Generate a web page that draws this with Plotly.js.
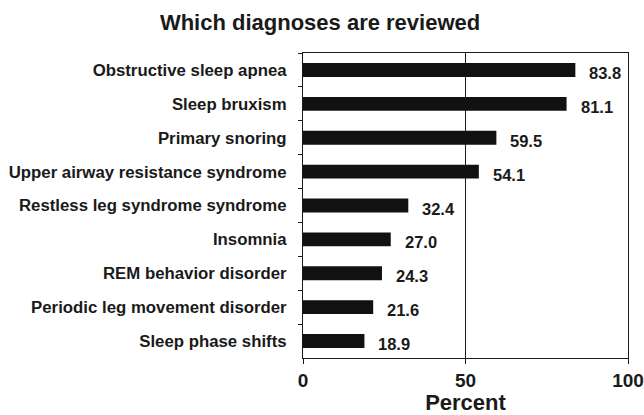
<!DOCTYPE html>
<html>
<head>
<meta charset="utf-8">
<script src="https://cdn.plot.ly/plotly-3.0.1.min.js"></script>
<style>html,body{margin:0;padding:0;background:#fff;}#chart{width:644px;height:415px;}</style>
</head>
<body>
<div id="chart"></div>
<script>
const categories = [
  "Obstructive sleep apnea",
  "Sleep bruxism",
  "Primary snoring",
  "Upper airway resistance syndrome",
  "Restless leg syndrome syndrome",
  "Insomnia",
  "REM behavior disorder",
  "Periodic leg movement disorder",
  "Sleep phase shifts"
];
const percents = [83.8, 81.1, 59.5, 54.1, 32.4, 27.0, 24.3, 21.6, 18.9];
const xTickVals = [0, 50, 100];
const xTickText = ["0", "50", "100"];

const FONT = "Liberation Sans, Arial, Helvetica, sans-serif";
const INK = "#1a1a1a";

const trace = {
  type: "bar",
  orientation: "h",
  x: percents,
  y: categories,
  marker: {color: "#111111", line: {width: 0}},
  hoverinfo: "x+y"
};

const annotations = categories.map((c, i) => ({
  x: percents[i],
  y: c,
  xref: "x",
  yref: "y",
  text: percents[i].toFixed(1),
  showarrow: false,
  xanchor: "left",
  yanchor: "middle",
  xshift: 12,
  yshift: -3,
  font: {family: FONT, size: 16.5, color: INK, weight: 700}
}));

const layout = {
  width: 644,
  height: 415,
  margin: {l: 303, r: 16, t: 53, b: 57},
  paper_bgcolor: "#ffffff",
  plot_bgcolor: "#ffffff",
  showlegend: false,
  bargap: 0.59,
  title: {
    text: "Which diagnoses are reviewed",
    font: {family: FONT, size: 22, color: INK, weight: 700},
    x: 0.497,
    xref: "container",
    xanchor: "center",
    y: 1 - 22/415,
    yref: "container",
    yanchor: "middle"
  },
  xaxis: {
    range: [0, 100],
    tickvals: xTickVals,
    ticktext: xTickText,
    ticks: "outside",
    ticklen: 5,
    tickcolor: INK,
    tickfont: {family: FONT, size: 19, color: INK, weight: 700},
    showline: true,
    mirror: true,
    linecolor: INK,
    linewidth: 1,
    showgrid: true,
    gridcolor: INK,
    gridwidth: 1,
    zeroline: false,
    fixedrange: true,
    title: {
      text: "Percent",
      font: {family: FONT, size: 22, color: INK, weight: 700},
      standoff: 6
    }
  },
  yaxis: {
    type: "category",
    autorange: "reversed",
    ticks: "outside",
    tickson: "boundaries",
    ticklen: 4,
    tickcolor: INK,
    ticklabelstandoff: 12,
    tickfont: {family: FONT, size: 16.8, color: INK, weight: 700},
    showline: true,
    mirror: true,
    linecolor: INK,
    linewidth: 1,
    showgrid: false,
    zeroline: false,
    fixedrange: true
  },
  annotations: annotations
};

Plotly.newPlot("chart", [trace], layout, {displayModeBar: false, staticPlot: true});
</script>
</body>
</html>
